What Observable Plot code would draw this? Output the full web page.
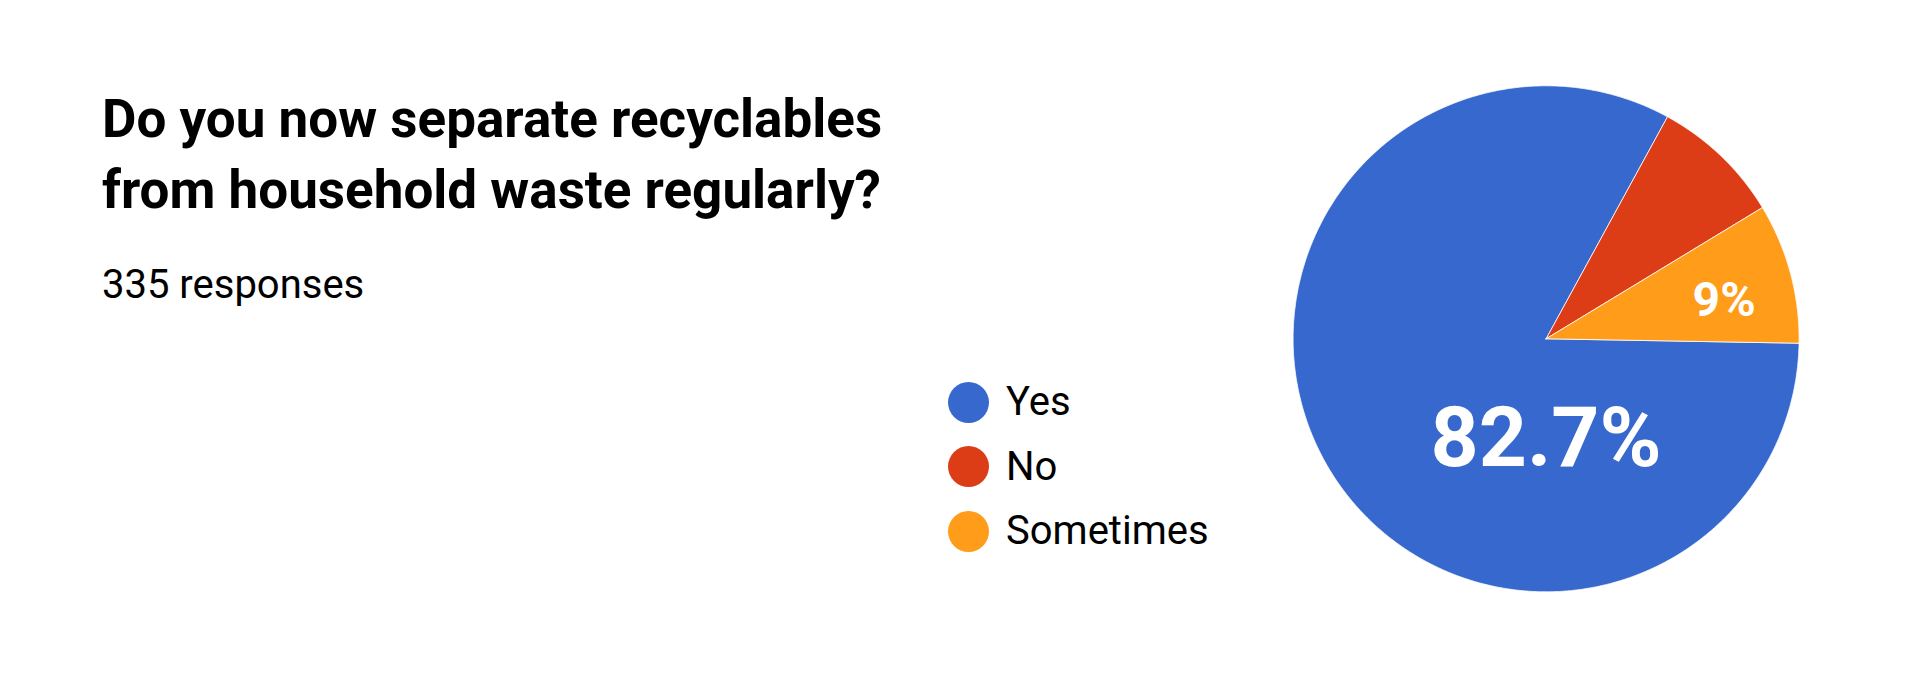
<!DOCTYPE html>
<html>
<head>
<meta charset="utf-8">
<script src="https://cdn.jsdelivr.net/npm/d3@7"></script>
<script src="https://cdn.jsdelivr.net/npm/@observablehq/plot@0.6"></script>
<style>
  html, body { margin: 0; padding: 0; background: #fff; }
  #wrap { position: relative; width: 1920px; height: 680px; overflow: hidden; font-family: Roboto, "Noto Sans", sans-serif; color: #000; }
  #chart { position: absolute; left: 0; top: 0; }
  #title { position: absolute; left: 102px; top: 84px; font-size: 53px; line-height: 71px; font-weight: 700; margin: 0; white-space: nowrap; }
  #subtitle { position: absolute; left: 102px; top: 265px; font-size: 40px; line-height: 40px; margin: 0; }
  #legend { position: absolute; left: 948px; top: 370px; }
  .row { display: flex; align-items: center; height: 64.6px; }
  .sw { width: 41px; height: 41px; border-radius: 50%; flex: none; }
  .lab { margin-left: 17px; font-size: 40px; line-height: 40px; }
</style>
</head>
<body>
<div id="wrap">
  <div id="chart"></div>
  <div id="title">Do you now separate recyclables<br>from household waste regularly?</div>
  <div id="subtitle"></div>
  <div id="legend"></div>
</div>
<script>
// ---- data ----
const answers = ["Yes", "No", "Sometimes"];
const counts = [277, 28, 30];
const totalResponses = 335;
const labeledAnswers = ["Yes", "Sometimes"];
const colors = ["#3668cd", "#dc3d17", "#ff9d1b"];

// ---- layout ----
const cx = 1545.6, cy = 338.3, R = 253;
const startDeg = 91;

document.getElementById("subtitle").textContent = `${totalResponses} responses`;

const slices = answers.map((a, i) => ({answer: a, count: counts[i]}));
const total = d3.sum(counts);
const fmt = d3.format(".1~f");

const arcs = d3.pie()
  .value(d => d.count)
  .sort(null)
  .startAngle(startDeg * Math.PI / 180)
  .endAngle(startDeg * Math.PI / 180 + 2 * Math.PI)(slices);

// polygon outline of each slice in unit-circle data space (y up)
const step = Math.PI / 720;
const poly = [];
for (const a of arcs) {
  poly.push({answer: a.data.answer, x: 0, y: 0});
  const n = Math.max(2, Math.ceil((a.endAngle - a.startAngle) / step));
  for (let k = 0; k <= n; k++) {
    const t = a.startAngle + (a.endAngle - a.startAngle) * k / n;
    poly.push({answer: a.data.answer, x: Math.sin(t), y: Math.cos(t)});
  }
  poly.push({answer: a.data.answer, x: 0, y: 0});
}

// slice labels
const labels = arcs
  .filter(a => labeledAnswers.includes(a.data.answer))
  .map(a => {
    const share = a.data.count / total;
    let x, y, size;
    if (share > 0.5) { x = 0; y = -0.395; size = 84; }
    else {
      const m = (a.startAngle + a.endAngle) / 2 + 0.05;
      x = 0.72 * Math.sin(m); y = 0.72 * Math.cos(m); size = 48;
    }
    return {x, y, size, text: fmt(share * 100) + "%"};
  });

const plot = Plot.plot({
  width: 1920,
  height: 680,
  margin: 0,
  x: {domain: [-1, 1], range: [cx - R, cx + R], axis: null},
  y: {domain: [-1, 1], range: [cy + R, cy - R], axis: null},
  color: {domain: answers, range: colors},
  style: {fontFamily: "Roboto, sans-serif", background: "transparent"},
  marks: [
    Plot.line(poly, {x: "x", y: "y", z: "answer", fill: "answer", stroke: "white", strokeWidth: 0.8, curve: "linear"}),
    Plot.text(labels.filter(d => d.size > 60), {x: "x", y: "y", text: "text", fill: "white", fontSize: 84, fontWeight: 700}),
    Plot.text(labels.filter(d => d.size <= 60), {x: "x", y: "y", text: "text", fill: "white", fontSize: 48, fontWeight: 700})
  ]
});
document.getElementById("chart").appendChild(plot);

// legend
const legend = document.getElementById("legend");
answers.forEach((a, i) => {
  const row = document.createElement("div");
  row.className = "row";
  const sw = document.createElement("div");
  sw.className = "sw";
  sw.style.background = colors[i];
  const lab = document.createElement("div");
  lab.className = "lab";
  lab.textContent = a;
  row.appendChild(sw); row.appendChild(lab);
  legend.appendChild(row);
});
</script>
</body>
</html>
